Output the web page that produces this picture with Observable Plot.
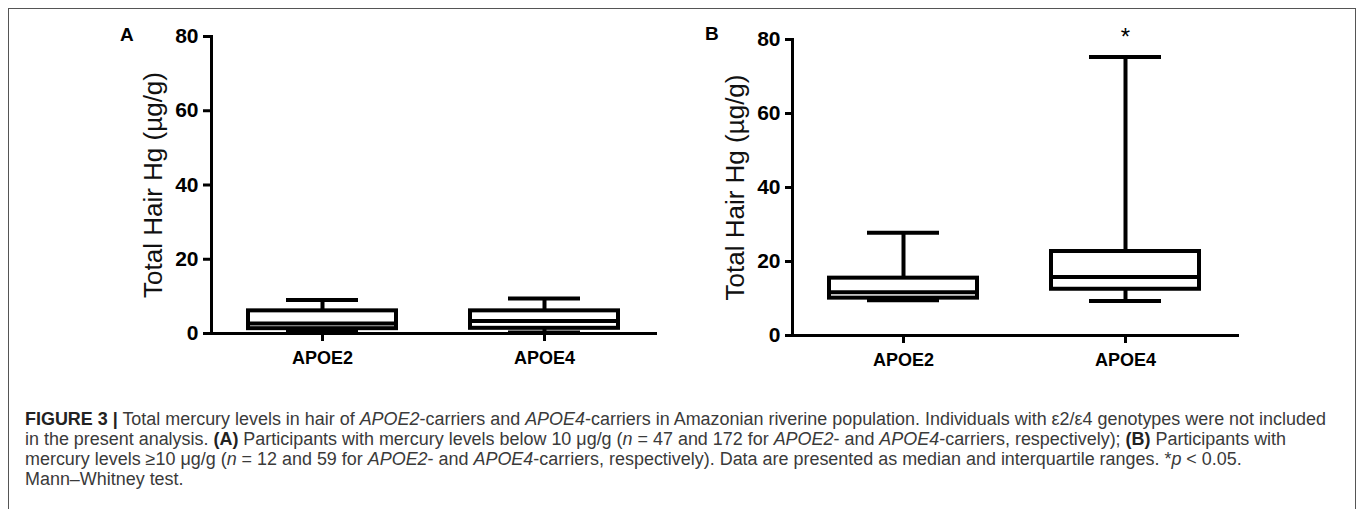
<!DOCTYPE html>
<html>
<head>
<meta charset="utf-8">
<script src="https://cdn.jsdelivr.net/npm/d3@7"></script>
<script src="https://cdn.jsdelivr.net/npm/@observablehq/plot@0.6"></script>
<style>
  html, body { margin: 0; padding: 0; background: #fff; }
  body { width: 1357px; height: 509px; position: relative; overflow: hidden; font-family: "Liberation Sans", Arial, Helvetica, sans-serif; }
  #frame { position: absolute; left: 8px; top: 8px; width: 1346px; height: 520px; border: 1px solid #555; border-bottom: none; }
  .panel { position: absolute; top: 0; }
  .letter { position: absolute; font-weight: bold; font-size: 19px; color: #000; }
  #caption { position: absolute; left: 25px; top: 409px; color: #3a3a3a; font-family: "Liberation Sans Narrow", "Arial Narrow", "Liberation Sans", Arial, sans-serif; font-size: 19px; line-height: 20px; white-space: nowrap; }
  #caption b { color: #222; }
</style>
</head>
<body>
<div id="frame"></div>
<div id="panelA" class="panel" style="left:0px"></div>
<div id="panelB" class="panel" style="left:680px"></div>
<div class="letter" style="left:120px;top:24px">A</div>
<div class="letter" style="left:705px;top:23px">B</div>
<div id="caption">
<div id="cap1"><b>FIGURE 3 |</b> Total mercury levels in hair of <i>APOE2</i>-carriers and <i>APOE4</i>-carriers in Amazonian riverine population. Individuals with ε2/ε4 genotypes were not included</div>
<div id="cap2">in the present analysis. <b>(A)</b> Participants with mercury levels below 10 μg/g (<i>n</i> = 47 and 172 for <i>APOE2</i>- and <i>APOE4</i>-carriers, respectively); <b>(B)</b> Participants with</div>
<div id="cap3">mercury levels ≥10 μg/g (<i>n</i> = 12 and 59 for <i>APOE2</i>- and <i>APOE4</i>-carriers, respectively). Data are presented as median and interquartile ranges. *<i>p</i> &lt; 0.05.</div>
<div id="cap4">Mann–Whitney test.</div>
</div>
<script>
// ---- data ----
const categories = ["APOE2", "APOE4"];
const yTicks = [0, 20, 40, 60, 80];
const yLabel = "Total Hair Hg (µg/g)";

// Panel A: mercury < 10 µg/g
const lowA    = [0.4, 0.3];
const q1A     = [1.3, 1.4];
const medianA = [2.7, 3.4];
const q3A     = [6.1, 6.1];
const highA   = [9.0, 9.4];
const signifA = ["", ""];

// Panel B: mercury >= 10 µg/g
const lowB    = [9.5, 9.3];
const q1B     = [10.1, 12.5];
const medianB = [11.7, 15.8];
const q3B     = [15.5, 22.7];
const highB   = [27.8, 75.3];
const signifB = ["", "*"];

function table(low, q1, med, q3, high, sig) {
  return categories.map((c, i) => ({cat: c, low: low[i], q1: q1[i], med: med[i], q3: q3[i], high: high[i], sig: sig[i]}));
}

function boxPanel(data, opts) {
  const sw = 4;
  const font = "'Liberation Sans', Arial, Helvetica, sans-serif";
  return Plot.plot({
    width: opts.width,
    height: opts.height,
    marginLeft: opts.marginLeft,
    marginRight: opts.marginRight,
    marginTop: opts.marginTop,
    marginBottom: opts.marginBottom,
    style: {fontFamily: font, background: "transparent", overflow: "visible"},
    x: {type: "band", domain: categories, paddingInner: 0.332, paddingOuter: 0.166, label: null},
    y: {domain: [0, 80], label: null},
    marks: [
      Plot.ruleX(data, {x: "cat", y1: "q3", y2: "high", stroke: "#000", strokeWidth: sw}),
      Plot.ruleX(data, {x: "cat", y1: "low", y2: "q1", stroke: "#000", strokeWidth: sw}),
      Plot.tickY(data, {x: "cat", y: "high", stroke: "#000", strokeWidth: sw, insetLeft: 38, insetRight: 38}),
      Plot.tickY(data, {x: "cat", y: "low", stroke: "#000", strokeWidth: sw, insetLeft: 38, insetRight: 38}),
      Plot.barY(data, {x: "cat", y1: "q1", y2: "q3", fill: "#fff", stroke: "#000", strokeWidth: sw}),
      Plot.tickY(data, {x: "cat", y: "med", stroke: "#000", strokeWidth: sw}),
      Plot.text(data, {x: "cat", y: "high", text: "sig", dy: -20, fontSize: 24, fill: "#000", fontFamily: font}),
      Plot.frame({anchor: "left", stroke: "#000", strokeWidth: 3}),
      Plot.frame({anchor: "bottom", stroke: "#000", strokeWidth: 3}),
      Plot.axisY({ticks: yTicks, tickSize: opts.yTick, tickPadding: 5, strokeWidth: 3, fontSize: 21, fontWeight: "bold", fill: "#000", label: null}),
      Plot.axisX({tickSize: 8, tickPadding: 10, strokeWidth: 3, fontSize: 18, fontWeight: "bold", fill: "#000", label: null}),
      Plot.text([yLabel], {frameAnchor: "left", textAnchor: "middle", lineAnchor: "middle", rotate: -90, dx: opts.labelDx, fontSize: 26, fill: "#111", fontFamily: font})
    ]
  });
}

document.getElementById("panelA").append(boxPanel(table(lowA, q1A, medianA, q3A, highA, signifA), {
  width: 680, height: 380, marginLeft: 211, marginRight: 25, marginTop: 36, marginBottom: 47, labelDx: -58, yTick: 8
}));
document.getElementById("panelB").append(boxPanel(table(lowB, q1B, medianB, q3B, highB, signifB), {
  width: 677, height: 380, marginLeft: 112, marginRight: 120, marginTop: 39, marginBottom: 45, labelDx: -57, yTick: 7
}));

// fit caption width (first line spans ~1302px in the reference)
const cap1 = document.getElementById("cap1");
const capEl = document.getElementById("caption");
cap1.style.display = "inline-block";
const w1 = cap1.getBoundingClientRect().width;
cap1.style.display = "";
if (w1 > 0) capEl.style.fontSize = (19 * 1302 / w1).toFixed(2) + "px";
</script>
</body>
</html>
